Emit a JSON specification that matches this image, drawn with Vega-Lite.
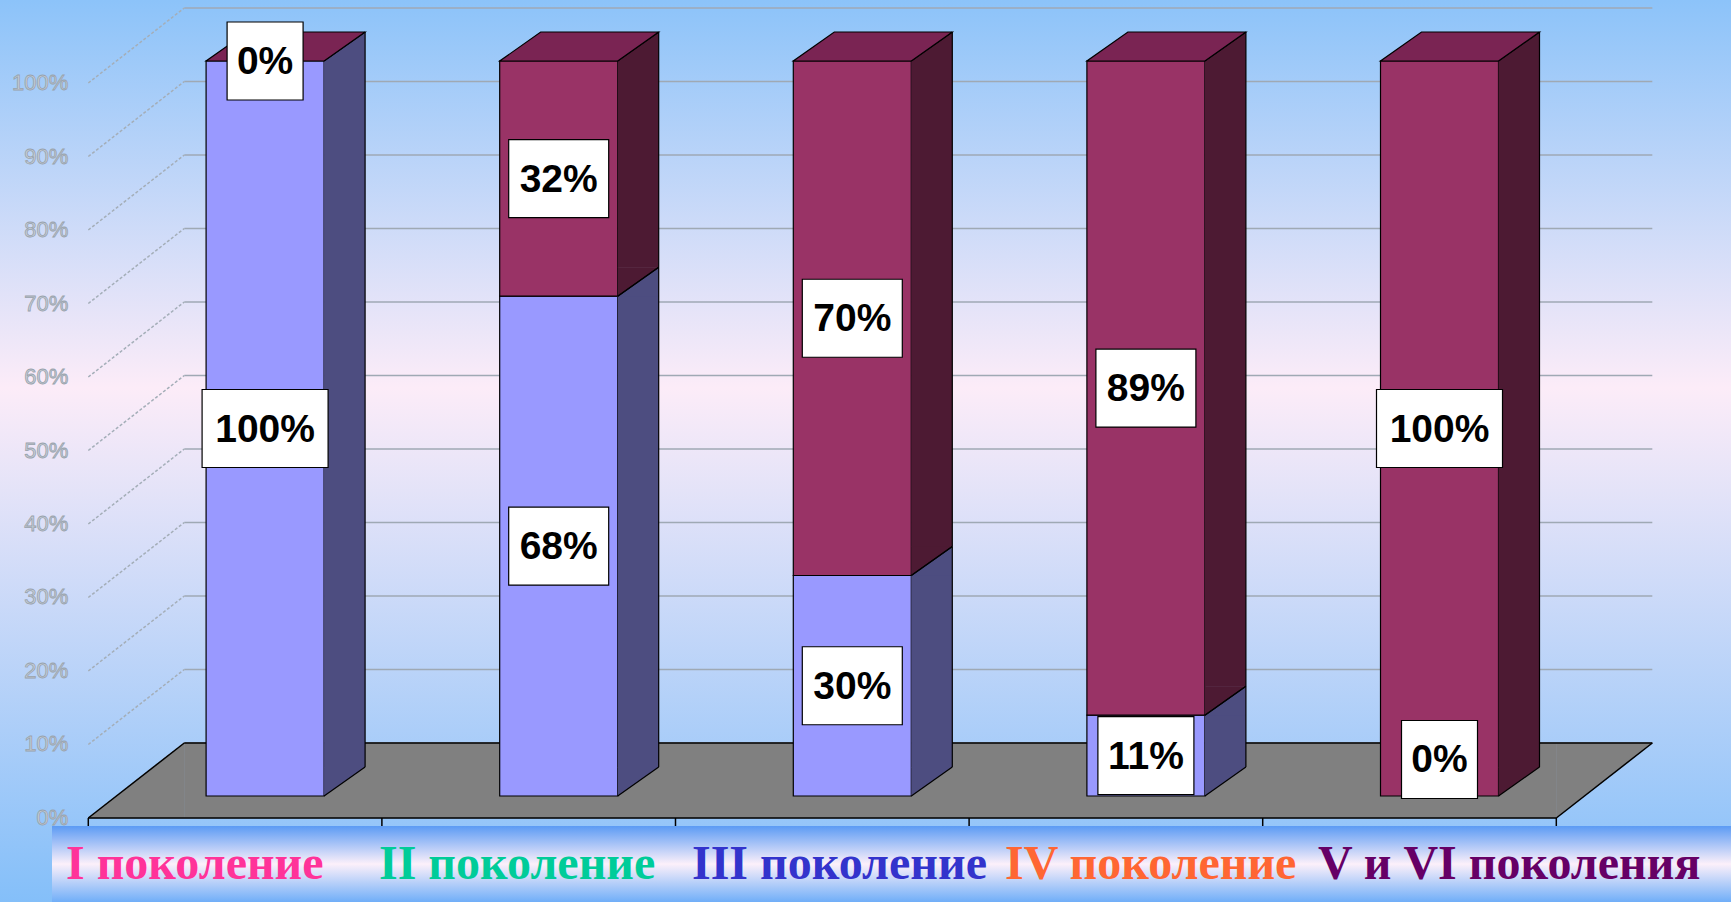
{
  "$schema": "https://vega.github.io/schema/vega-lite/v6.json",
  "width": 1731,
  "height": 902,
  "padding": 0,
  "autosize": {"type": "none"},
  "background": "#8ec4f8",
  "config": {
    "view": {
      "stroke": null,
      "fill": {"gradient": "linear", "x1": 0, "y1": 0, "x2": 0, "y2": 1,
        "stops": [{"offset": 0, "color": "#8cc3f9"}, {"offset": 0.43, "color": "#fcecf8"}, {"offset": 1, "color": "#84bff9"}]}
    }
  },
  "datasets": {
    "gens": [
      {"gen": "I поколение", "series": "Ряд 1", "value": 1},
      {"gen": "I поколение", "series": "Ряд 2", "value": 0},
      {"gen": "II поколение", "series": "Ряд 1", "value": 0.68},
      {"gen": "II поколение", "series": "Ряд 2", "value": 0.32},
      {"gen": "III поколение", "series": "Ряд 1", "value": 0.3},
      {"gen": "III поколение", "series": "Ряд 2", "value": 0.7},
      {"gen": "IV поколение", "series": "Ряд 1", "value": 0.11},
      {"gen": "IV поколение", "series": "Ряд 2", "value": 0.89},
      {"gen": "V и VI поколения", "series": "Ряд 1", "value": 0},
      {"gen": "V и VI поколения", "series": "Ряд 2", "value": 1}
    ],
    "ticks": [
      {"t": 0}, {"t": 0.1}, {"t": 0.2}, {"t": 0.3}, {"t": 0.4}, {"t": 0.5},
      {"t": 0.6}, {"t": 0.7}, {"t": 0.8}, {"t": 0.9}, {"t": 1}
    ]
  },
  "resolve": {"scale": {"x": "independent"}},
  "layer": [
    {
      "layer": [
        {
          "data": {"name": "ticks"},
          "mark": {"type": "rule", "stroke": "#9fa9b4", "strokeWidth": 1.5, "xOffset": 96, "x2Offset": 96, "yOffset": -75, "y2Offset": -75},
          "encoding": {
            "x": {"datum": 0.5, "type": "quantitative", "scale": {"domain": [0.1993, 6.095], "nice": false, "zero": false}, "axis": null},
            "x2": {"datum": 5.5},
            "y": {"field": "t", "type": "quantitative", "title": null, "scale": {"domain": [-0.11429, 1.11293], "nice": false, "zero": false}, "axis": null},
            "y2": {"field": "t"}
          }
        },
        {
          "data": {"name": "ticks"},
          "mark": {"type": "rule", "stroke": "#a4aeb8", "strokeWidth": 1.5, "strokeDash": [3, 2], "x2Offset": 96, "y2Offset": -75},
          "encoding": {
            "x": {"datum": 0.5, "type": "quantitative", "scale": {"domain": [0.1993, 6.095], "nice": false, "zero": false}, "axis": null},
            "x2": {"datum": 0.5},
            "y": {"field": "t", "type": "quantitative", "title": null, "scale": {"domain": [-0.11429, 1.11293], "nice": false, "zero": false}, "axis": null},
            "y2": {"field": "t"}
          }
        },
        {
          "data": {"name": "ticks"},
          "mark": {"type": "text", "font": "Liberation Sans", "fontSize": 22, "fill": "#c8d0d8", "stroke": "#98a2ac", "strokeWidth": 0.8, "align": "right", "baseline": "middle", "xOffset": -20},
          "encoding": {
            "x": {"datum": 0.5, "type": "quantitative", "scale": {"domain": [0.1993, 6.095], "nice": false, "zero": false}, "axis": null},
            "y": {"field": "t", "type": "quantitative", "title": null, "scale": {"domain": [-0.11429, 1.11293], "nice": false, "zero": false}, "axis": null},
            "text": {"field": "t", "type": "quantitative", "format": ".0%"}
          }
        },
        {
          "data": {"values": [{}]},
          "mark": {"type": "rect", "fill": "#808080", "stroke": "#808080", "strokeWidth": 0.5, "xOffset": 96, "yOffset": -75},
          "encoding": {
            "x": {"datum": 0.5, "type": "quantitative", "scale": {"domain": [0.1993, 6.095], "nice": false, "zero": false}, "axis": null},
            "x2": {"datum": 5.5},
            "y": {"datum": 0, "type": "quantitative", "scale": {"domain": [-0.11429, 1.11293], "nice": false, "zero": false}, "axis": null},
            "y2": {"datum": 0}
          }
        },
        {
          "data": {"values": [{}]},
          "mark": {"type": "point", "shape": "M0,0L96,-75L96,0Z", "size": 4, "filled": true, "fill": "#808080", "stroke": "#808080", "strokeWidth": 0.5, "opacity": 1},
          "encoding": {
            "x": {"datum": 0.5, "type": "quantitative", "scale": {"domain": [0.1993, 6.095], "nice": false, "zero": false}, "axis": null},
            "y": {"datum": 0, "type": "quantitative", "scale": {"domain": [-0.11429, 1.11293], "nice": false, "zero": false}, "axis": null}
          }
        },
        {
          "data": {"values": [{}]},
          "mark": {"type": "point", "shape": "M0,0L0,-75L96,-75Z", "size": 4, "filled": true, "fill": "#808080", "stroke": "#808080", "strokeWidth": 0.5, "opacity": 1},
          "encoding": {
            "x": {"datum": 5.5, "type": "quantitative", "scale": {"domain": [0.1993, 6.095], "nice": false, "zero": false}, "axis": null},
            "y": {"datum": 0, "type": "quantitative", "scale": {"domain": [-0.11429, 1.11293], "nice": false, "zero": false}, "axis": null}
          }
        },
        {
          "data": {"values": [{}]},
          "mark": {"type": "rule", "stroke": "#000000", "strokeWidth": 1.5},
          "encoding": {
            "x": {"datum": 0.5, "type": "quantitative", "scale": {"domain": [0.1993, 6.095], "nice": false, "zero": false}, "axis": null},
            "x2": {"datum": 5.5},
            "y": {"datum": 0, "type": "quantitative", "scale": {"domain": [-0.11429, 1.11293], "nice": false, "zero": false}, "axis": null}
          }
        },
        {
          "data": {"values": [{}]},
          "mark": {"type": "rule", "stroke": "#000000", "strokeWidth": 1.5, "xOffset": 96, "x2Offset": 96, "yOffset": -75},
          "encoding": {
            "x": {"datum": 0.5, "type": "quantitative", "scale": {"domain": [0.1993, 6.095], "nice": false, "zero": false}, "axis": null},
            "x2": {"datum": 5.5},
            "y": {"datum": 0, "type": "quantitative", "scale": {"domain": [-0.11429, 1.11293], "nice": false, "zero": false}, "axis": null}
          }
        },
        {
          "data": {"values": [{}]},
          "mark": {"type": "rule", "stroke": "#000000", "strokeWidth": 1.5, "x2Offset": 96, "y2Offset": -75},
          "encoding": {
            "x": {"datum": 0.5, "type": "quantitative", "scale": {"domain": [0.1993, 6.095], "nice": false, "zero": false}, "axis": null},
            "x2": {"datum": 0.5},
            "y": {"datum": 0, "type": "quantitative", "scale": {"domain": [-0.11429, 1.11293], "nice": false, "zero": false}, "axis": null},
            "y2": {"datum": 0}
          }
        },
        {
          "data": {"values": [{}]},
          "mark": {"type": "rule", "stroke": "#000000", "strokeWidth": 1.5, "x2Offset": 96, "y2Offset": -75},
          "encoding": {
            "x": {"datum": 5.5, "type": "quantitative", "scale": {"domain": [0.1993, 6.095], "nice": false, "zero": false}, "axis": null},
            "x2": {"datum": 5.5},
            "y": {"datum": 0, "type": "quantitative", "scale": {"domain": [-0.11429, 1.11293], "nice": false, "zero": false}, "axis": null},
            "y2": {"datum": 0}
          }
        },
        {
          "data": {"values": [{}]},
          "mark": {"type": "rule", "stroke": "#000000", "strokeWidth": 1.5, "y2Offset": 9},
          "encoding": {
            "x": {"datum": 5.5, "type": "quantitative", "scale": {"domain": [0.1993, 6.095], "nice": false, "zero": false}, "axis": null},
            "y": {"datum": 0, "type": "quantitative", "scale": {"domain": [-0.11429, 1.11293], "nice": false, "zero": false}, "axis": null},
            "y2": {"datum": 0}
          }
        },
        {
          "data": {"name": "gens"},
          "transform": [
            {"window": [{"op": "dense_rank", "as": "k"}], "sort": [{"field": "gen", "order": "ascending"}]},
            {"filter": {"field": "series", "equal": "Ряд 1"}}
          ],
          "mark": {"type": "rule", "stroke": "#000000", "strokeWidth": 1.5, "xOffset": -146.8, "x2Offset": -146.8, "y2Offset": 9},
          "encoding": {
            "x": {"field": "k", "type": "quantitative", "title": null, "scale": {"domain": [0.1993, 6.095], "nice": false, "zero": false}, "axis": null},
            "x2": {"field": "k"},
            "y": {"datum": 0, "type": "quantitative", "scale": {"domain": [-0.11429, 1.11293], "nice": false, "zero": false}, "axis": null},
            "y2": {"datum": 0}
          }
        },
        {
          "data": {"name": "gens"},
          "transform": [
            {"window": [{"op": "dense_rank", "as": "k"}], "sort": [{"field": "gen", "order": "ascending"}]},
            {"stack": "value", "groupby": ["gen"], "sort": [{"field": "series", "order": "ascending"}], "as": ["v0", "v1"]},
            {"filter": {"field": "value", "gt": 0}}
          ],
          "layer": [
            {
              "mark": {"type": "rect", "xOffset": -29, "x2Offset": 89, "yOffset": -22, "y2Offset": -22, "stroke": "#000000", "strokeWidth": 1.2},
              "encoding": {
                "x": {"field": "k", "type": "quantitative", "title": null, "scale": {"domain": [0.1993, 6.095], "nice": false, "zero": false}, "axis": null},
                "x2": {"field": "k"},
                "y": {"field": "v1", "type": "quantitative", "title": null, "scale": {"domain": [-0.11429, 1.11293], "nice": false, "zero": false}, "axis": null},
                "y2": {"field": "v0"},
                "fill": {"condition": {"test": {"field": "series", "equal": "Ряд 1"}, "value": "#9999ff"}, "value": "#993366"}
              }
            },
            {
              "mark": {"type": "rect", "xOffset": 89, "x2Offset": 130, "yOffset": -22.5, "y2Offset": -50.5, "strokeWidth": 0},
              "encoding": {
                "x": {"field": "k", "type": "quantitative", "title": null, "scale": {"domain": [0.1993, 6.095], "nice": false, "zero": false}, "axis": null},
                "x2": {"field": "k"},
                "y": {"field": "v1", "type": "quantitative", "title": null, "scale": {"domain": [-0.11429, 1.11293], "nice": false, "zero": false}, "axis": null},
                "y2": {"field": "v0"},
                "fill": {"condition": {"test": {"field": "series", "equal": "Ряд 1"}, "value": "#4d4d80"}, "value": "#4d1a33"}
              }
            },
            {
              "mark": {"type": "point", "shape": "M0,0L41,-29L41,0Z", "size": 4, "filled": true, "strokeWidth": 0, "opacity": 1, "xOffset": 89, "yOffset": -22},
              "encoding": {
                "x": {"field": "k", "type": "quantitative", "title": null, "scale": {"domain": [0.1993, 6.095], "nice": false, "zero": false}, "axis": null},
                "y": {"field": "v1", "type": "quantitative", "title": null, "scale": {"domain": [-0.11429, 1.11293], "nice": false, "zero": false}, "axis": null},
                "fill": {"condition": {"test": {"field": "series", "equal": "Ряд 1"}, "value": "#4d4d80"}, "value": "#4d1a33"}
              }
            },
            {
              "mark": {"type": "point", "shape": "M0,0L0,-29L41,-29Z", "size": 4, "filled": true, "strokeWidth": 0, "opacity": 1, "xOffset": 89, "yOffset": -22},
              "encoding": {
                "x": {"field": "k", "type": "quantitative", "title": null, "scale": {"domain": [0.1993, 6.095], "nice": false, "zero": false}, "axis": null},
                "y": {"field": "v0", "type": "quantitative", "title": null, "scale": {"domain": [-0.11429, 1.11293], "nice": false, "zero": false}, "axis": null},
                "fill": {"condition": {"test": {"field": "series", "equal": "Ряд 1"}, "value": "#4d4d80"}, "value": "#4d1a33"}
              }
            },
            {
              "mark": {"type": "rule", "stroke": "#000000", "strokeWidth": 1.2, "xOffset": 89, "x2Offset": 130, "yOffset": -22, "y2Offset": -51},
              "encoding": {
                "x": {"field": "k", "type": "quantitative", "title": null, "scale": {"domain": [0.1993, 6.095], "nice": false, "zero": false}, "axis": null},
                "x2": {"field": "k"},
                "y": {"field": "v1", "type": "quantitative", "title": null, "scale": {"domain": [-0.11429, 1.11293], "nice": false, "zero": false}, "axis": null},
                "y2": {"field": "v1"}
              }
            },
            {
              "mark": {"type": "rule", "stroke": "#000000", "strokeWidth": 1.2, "xOffset": 89, "x2Offset": 130, "yOffset": -22, "y2Offset": -51},
              "encoding": {
                "x": {"field": "k", "type": "quantitative", "title": null, "scale": {"domain": [0.1993, 6.095], "nice": false, "zero": false}, "axis": null},
                "x2": {"field": "k"},
                "y": {"field": "v0", "type": "quantitative", "title": null, "scale": {"domain": [-0.11429, 1.11293], "nice": false, "zero": false}, "axis": null},
                "y2": {"field": "v0"}
              }
            },
            {
              "mark": {"type": "rule", "stroke": "#000000", "strokeWidth": 1.2, "xOffset": 130, "x2Offset": 130, "yOffset": -51, "y2Offset": -51},
              "encoding": {
                "x": {"field": "k", "type": "quantitative", "title": null, "scale": {"domain": [0.1993, 6.095], "nice": false, "zero": false}, "axis": null},
                "x2": {"field": "k"},
                "y": {"field": "v1", "type": "quantitative", "title": null, "scale": {"domain": [-0.11429, 1.11293], "nice": false, "zero": false}, "axis": null},
                "y2": {"field": "v0"}
              }
            }
          ]
        },
        {
          "data": {"name": "gens"},
          "transform": [
            {"window": [{"op": "dense_rank", "as": "k"}], "sort": [{"field": "gen", "order": "ascending"}]},
            {"stack": "value", "groupby": ["gen"], "sort": [{"field": "series", "order": "ascending"}], "as": ["v0", "v1"]},
            {"filter": {"field": "series", "equal": "Ряд 2"}}
          ],
          "mark": {"type": "point", "shape": "M0,0L-118,0L-77,-29L41,-29Z", "size": 4, "filled": true, "fill": "#7a2453", "stroke": "#000000", "strokeWidth": 1.2, "opacity": 1, "xOffset": 89, "yOffset": -22},
          "encoding": {
            "x": {"field": "k", "type": "quantitative", "title": null, "scale": {"domain": [0.1993, 6.095], "nice": false, "zero": false}, "axis": null},
            "y": {"field": "v1", "type": "quantitative", "title": null, "scale": {"domain": [-0.11429, 1.11293], "nice": false, "zero": false}, "axis": null}
          }
        },
        {
          "data": {"name": "gens"},
          "transform": [
            {"window": [{"op": "dense_rank", "as": "k"}], "sort": [{"field": "gen", "order": "ascending"}]},
            {"stack": "value", "groupby": ["gen"], "sort": [{"field": "series", "order": "ascending"}], "as": ["v0", "v1"]},
            {"fold": ["v0", "v1"], "as": ["edge", "pos"]},
            {"aggregate": [{"op": "mean", "field": "pos", "as": "mid"}], "groupby": ["k", "series", "value"]}
          ],
          "layer": [
            {
              "transform": [{"filter": {"field": "mid", "gt": 0}}],
              "mark": {"type": "point", "size": 4, "filled": true, "fill": "#ffffff", "stroke": "#000000", "strokeWidth": 1.2, "opacity": 1, "xOffset": 30, "yOffset": -22},
              "encoding": {
                "x": {"field": "k", "type": "quantitative", "title": null, "scale": {"domain": [0.1993, 6.095], "nice": false, "zero": false}, "axis": null},
                "y": {"field": "mid", "type": "quantitative", "title": null, "scale": {"domain": [-0.11429, 1.11293], "nice": false, "zero": false}, "axis": null},
                "shape": {"field": "value", "type": "nominal", "legend": null,
                  "scale": {"domain": [0, 0.11, 0.3, 0.32, 0.68, 0.7, 0.89, 1],
                    "range": ["M-38,-39H38V39H-38Z", "M-48,-39H48V39H-48Z", "M-50,-39H50V39H-50Z", "M-50,-39H50V39H-50Z", "M-50,-39H50V39H-50Z", "M-50,-39H50V39H-50Z", "M-50,-39H50V39H-50Z", "M-63,-39H63V39H-63Z"]}}
              }
            },
            {
              "transform": [{"filter": {"field": "mid", "gt": 0}}],
              "mark": {"type": "text", "font": "Liberation Sans", "fontSize": 39, "fontWeight": "bold", "fill": "#000000", "align": "center", "baseline": "middle", "xOffset": 30, "yOffset": -21},
              "encoding": {
                "x": {"field": "k", "type": "quantitative", "title": null, "scale": {"domain": [0.1993, 6.095], "nice": false, "zero": false}, "axis": null},
                "y": {"field": "mid", "type": "quantitative", "title": null, "scale": {"domain": [-0.11429, 1.11293], "nice": false, "zero": false}, "axis": null},
                "text": {"field": "value", "type": "quantitative", "format": ".0%"}
              }
            },
            {
              "transform": [{"filter": {"field": "mid", "lte": 0}}],
              "mark": {"type": "point", "size": 4, "filled": true, "fill": "#ffffff", "stroke": "#000000", "strokeWidth": 1.2, "opacity": 1, "xOffset": 30, "yOffset": -58.5},
              "encoding": {
                "x": {"field": "k", "type": "quantitative", "title": null, "scale": {"domain": [0.1993, 6.095], "nice": false, "zero": false}, "axis": null},
                "y": {"field": "mid", "type": "quantitative", "title": null, "scale": {"domain": [-0.11429, 1.11293], "nice": false, "zero": false}, "axis": null},
                "shape": {"field": "value", "type": "nominal", "legend": null,
                  "scale": {"domain": [0, 0.11, 0.3, 0.32, 0.68, 0.7, 0.89, 1],
                    "range": ["M-38,-39H38V39H-38Z", "M-48,-39H48V39H-48Z", "M-50,-39H50V39H-50Z", "M-50,-39H50V39H-50Z", "M-50,-39H50V39H-50Z", "M-50,-39H50V39H-50Z", "M-50,-39H50V39H-50Z", "M-63,-39H63V39H-63Z"]}}
              }
            },
            {
              "transform": [{"filter": {"field": "mid", "lte": 0}}],
              "mark": {"type": "text", "font": "Liberation Sans", "fontSize": 39, "fontWeight": "bold", "fill": "#000000", "align": "center", "baseline": "middle", "xOffset": 30, "yOffset": -57.5},
              "encoding": {
                "x": {"field": "k", "type": "quantitative", "title": null, "scale": {"domain": [0.1993, 6.095], "nice": false, "zero": false}, "axis": null},
                "y": {"field": "mid", "type": "quantitative", "title": null, "scale": {"domain": [-0.11429, 1.11293], "nice": false, "zero": false}, "axis": null},
                "text": {"field": "value", "type": "quantitative", "format": ".0%"}
              }
            }
          ]
        },
        {
          "data": {"values": [{}]},
          "mark": {"type": "rect", "fill": {"gradient": "linear", "x1": 0, "y1": 0, "x2": 0, "y2": 1,
            "stops": [{"offset": 0, "color": "#5c9bf4"}, {"offset": 0.5, "color": "#fcf0fa"}, {"offset": 1, "color": "#70aef8"}]}},
          "encoding": {
            "x": {"datum": 0.3764, "type": "quantitative", "scale": {"domain": [0.1993, 6.095], "nice": false, "zero": false}, "axis": null},
            "x2": {"datum": 6.095},
            "y": {"datum": -0.010884, "type": "quantitative", "scale": {"domain": [-0.11429, 1.11293], "nice": false, "zero": false}, "axis": null},
            "y2": {"datum": -0.11429}
          }
        }
      ]
    },
    {
      "data": {"name": "gens"},
      "transform": [{"filter": {"field": "series", "equal": "Ряд 1"}}],
      "mark": {"type": "text", "font": "Liberation Serif", "fontSize": 48, "fontWeight": "bold", "align": "left", "baseline": "middle"},
      "encoding": {
        "x": {"field": "gen", "type": "nominal", "title": null, "axis": null,
          "scale": {"type": "point", "domain": ["I поколение", "II поколение", "III поколение", "IV поколение", "V и VI поколения"], "range": [66, 1318], "padding": 0}},
        "y": {"datum": -0.0633, "type": "quantitative", "scale": {"domain": [-0.11429, 1.11293], "nice": false, "zero": false}, "axis": null},
        "text": {"field": "gen", "type": "nominal"},
        "color": {"field": "gen", "type": "nominal", "legend": null,
          "scale": {"domain": ["I поколение", "II поколение", "III поколение", "IV поколение", "V и VI поколения"], "range": ["#ff3399", "#00cc99", "#3333cc", "#ff6633", "#660066"]}}
      }
    }
  ]
}
